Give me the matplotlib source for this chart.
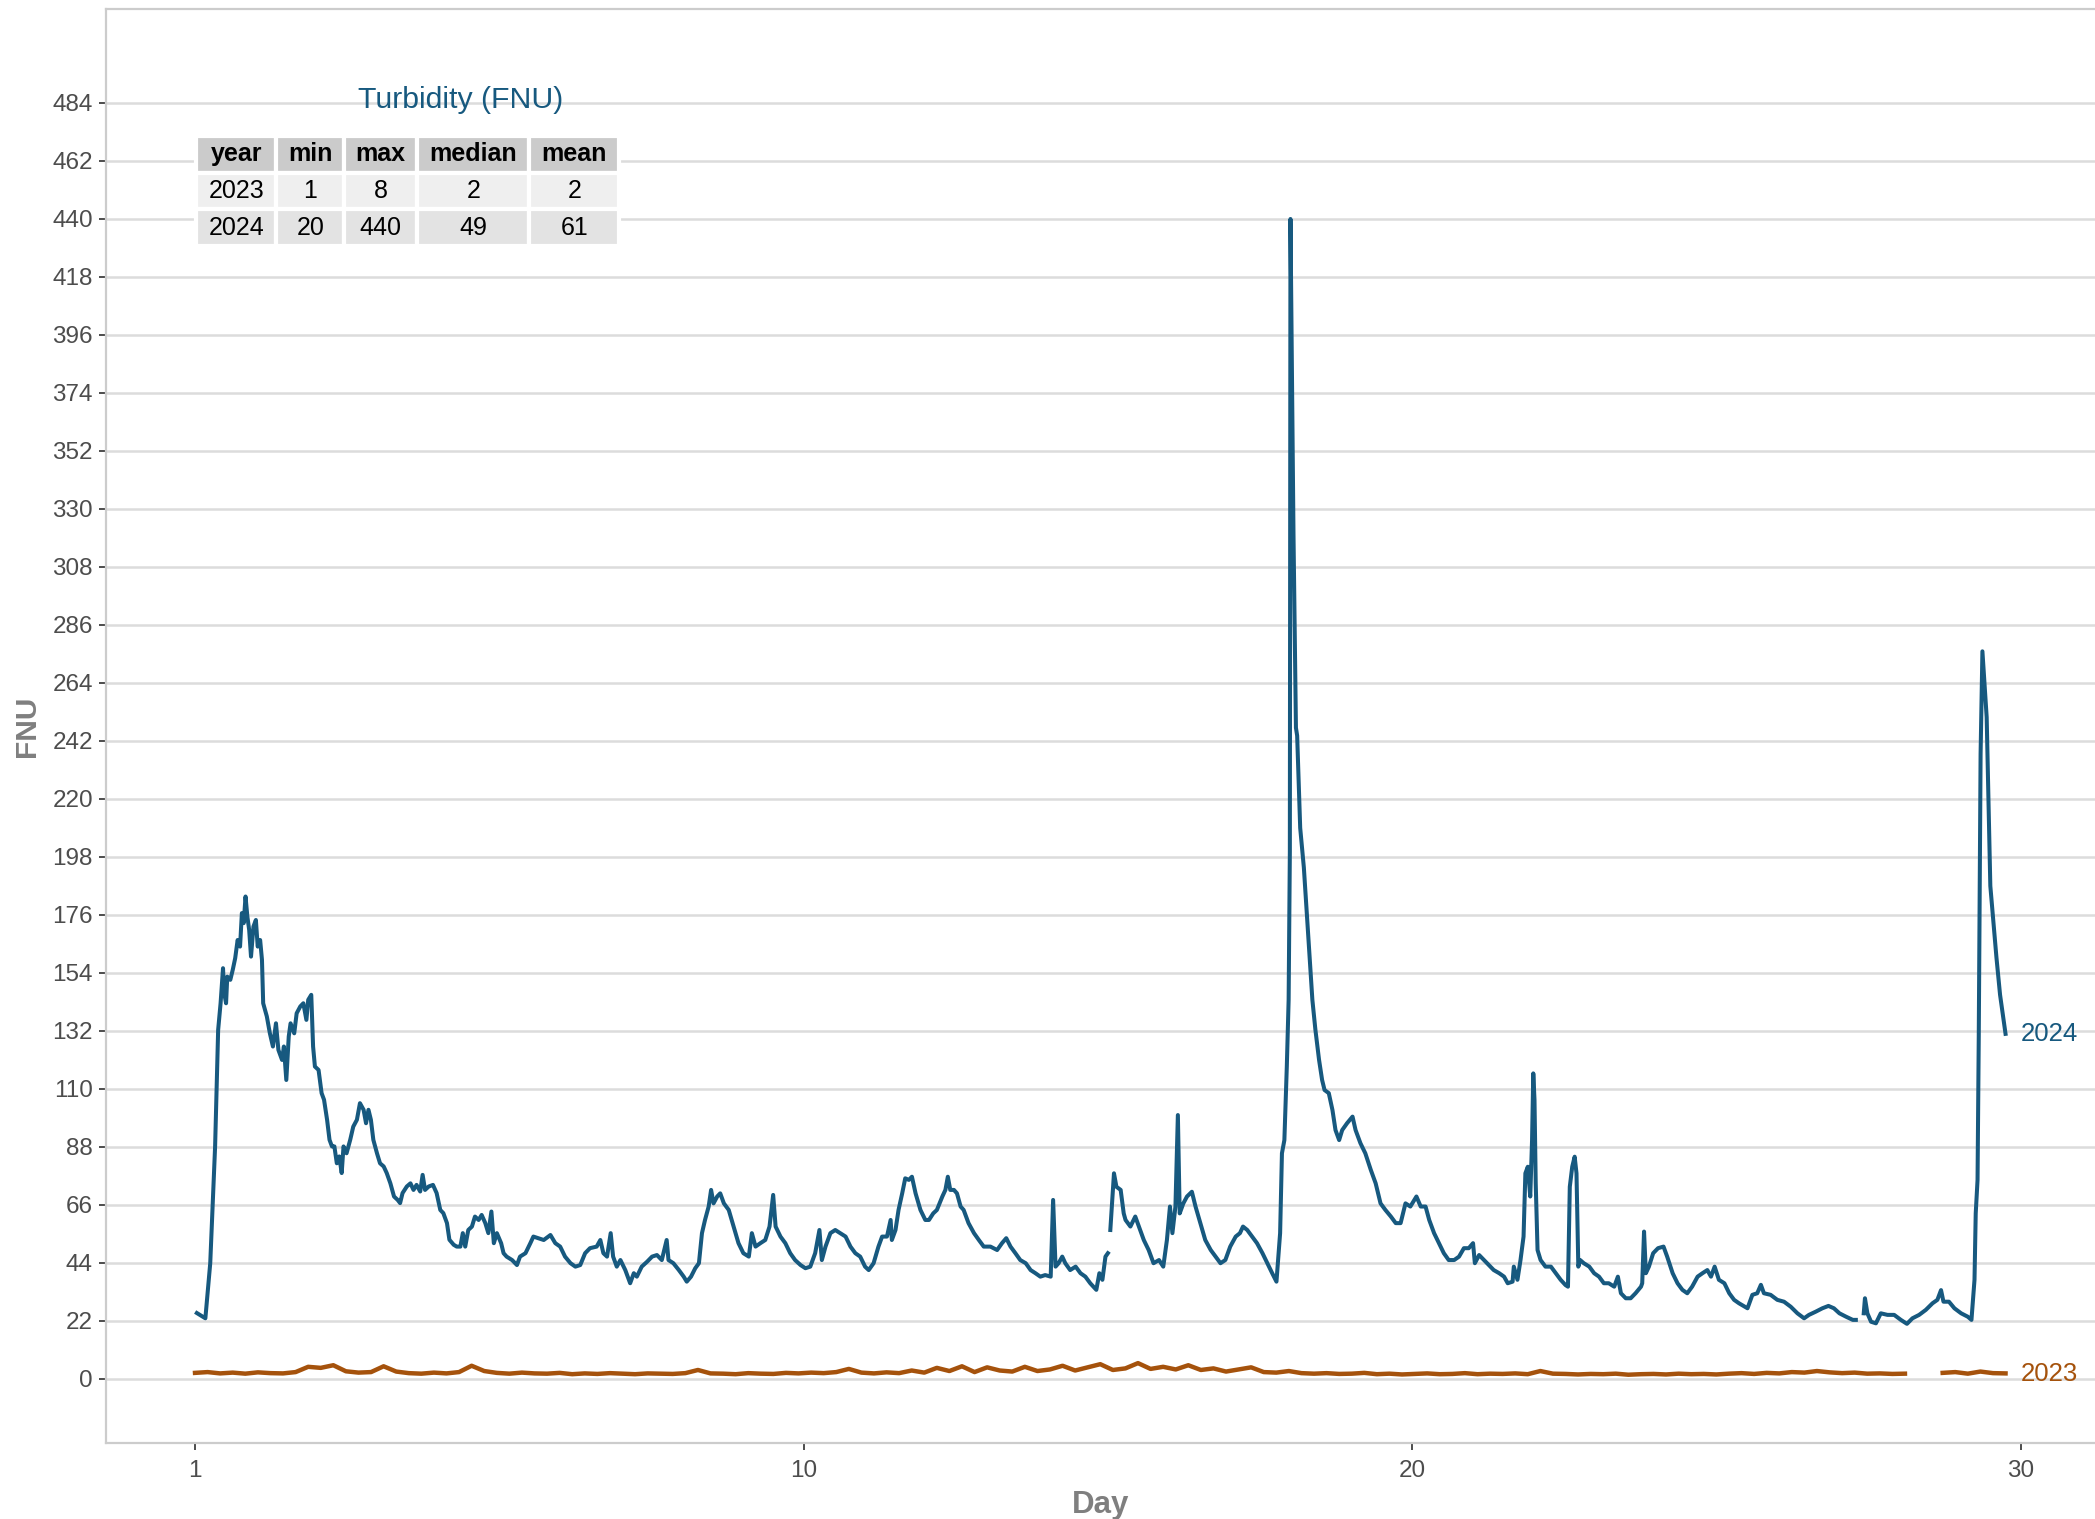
import numpy as np
import matplotlib.pyplot as plt

plt.rcParams['font.family'] = ['Liberation Sans', 'DejaVu Sans']

# 2024 turbidity trace: x = days from start of record, y = FNU
# (nan = break in the record)
day24 = [0.03, 0.17, 0.25, 0.33, 0.38, 0.42, 0.46, 0.48, 0.51, 0.53, 0.58, 0.62, 0.66, 0.70,
         0.74, 0.77, 0.80, 0.83, 0.86, 0.89, 0.92, 0.96, 1.00, 1.03, 1.07, 1.10, 1.12, 1.18,
         1.23, 1.28, 1.33, 1.37, 1.43, 1.46, 1.50, 1.54, 1.57, 1.63, 1.67, 1.73, 1.78, 1.83,
         1.86, 1.91, 1.94, 1.97, 2.03, 2.08, 2.12, 2.17, 2.21, 2.25, 2.29, 2.33, 2.37, 2.41,
         2.44, 2.49, 2.55, 2.60, 2.66, 2.71, 2.77, 2.81, 2.85, 2.89, 2.93, 2.99, 3.04, 3.10,
         3.15, 3.21, 3.27, 3.33, 3.37, 3.41, 3.48, 3.54, 3.59, 3.64, 3.70, 3.74, 3.78, 3.84,
         3.91, 3.97, 4.03, 4.08, 4.14, 4.18, 4.25, 4.30, 4.36, 4.40, 4.44, 4.49, 4.55, 4.60,
         4.66, 4.71, 4.77, 4.82, 4.87, 4.91, 4.96, 5.03,
         5.07, 5.12, 5.21, 5.29, 5.34, 5.43, 5.51, 5.56, 5.64, 5.73, 5.84, 5.92, 6.00, 6.08,
         6.17, 6.25, 6.33, 6.41, 6.49, 6.60, 6.66, 6.71, 6.77, 6.83, 6.87, 6.93, 6.99, 7.07,
         7.15, 7.21, 7.26, 7.34, 7.43, 7.51, 7.59, 7.67, 7.75, 7.78, 7.86, 7.95, 8.03, 8.08,
         8.15, 8.22, 8.28, 8.33, 8.38, 8.44, 8.48, 8.52, 8.58, 8.63, 8.69, 8.77, 8.85, 8.93,
         9.01, 9.10, 9.15, 9.21, 9.29, 9.37, 9.44, 9.50, 9.54, 9.62, 9.70, 9.78, 9.86, 9.95,
         10.03, 10.11, 10.19, 10.25,
         10.26, 10.30, 10.36, 10.44, 10.52, 10.60, 10.69, 10.77, 10.85, 10.93, 11.01, 11.07,
         11.15, 11.23, 11.29, 11.37, 11.43, 11.45, 11.51, 11.56, 11.62, 11.67, 11.73, 11.78,
         11.84, 11.92, 12.00, 12.06, 12.13, 12.19, 12.28, 12.33, 12.37, 12.41, 12.47, 12.52,
         12.58, 12.63, 12.71, 12.80, 12.88, 12.96, 13.07, 13.18, 13.26, 13.33, 13.40, 13.48,
         13.56, 13.65, 13.73, 13.81, 13.89, 13.97, 14.06, 14.10, 14.14, 14.19, 14.25, 14.30,
         14.38, 14.47, 14.55, 14.63, 14.71, 14.81, 14.86, 14.91, 14.96, 15.00, 15.02,
         15.04, 15.10, 15.14, 15.21, 15.26,
         15.29, 15.37, 15.45, 15.51, 15.59, 15.67, 15.75, 15.84, 15.91, 15.97, 16.02, 16.06,
         16.11, 16.15, 16.18, 16.24, 16.30, 16.38, 16.44, 16.52, 16.60, 16.69, 16.77, 16.85,
         16.93, 17.01, 17.10, 17.17, 17.22, 17.29, 17.37, 17.45, 17.54, 17.62, 17.70, 17.77,
         17.83, 17.86, 17.90, 17.94, 17.97, 17.99, 18.00, 18.05, 18.09, 18.11, 18.16, 18.22,
         18.30, 18.36, 18.41, 18.47, 18.52, 18.56, 18.63, 18.69, 18.74, 18.80, 18.85, 18.93,
         19.02, 19.07, 19.15, 19.23, 19.32, 19.40, 19.48, 19.56, 19.65, 19.73, 19.81, 19.89,
         19.97, 20.07, 20.14, 20.22, 20.28, 20.36, 20.44,
         20.52, 20.60, 20.69, 20.77, 20.85, 20.93, 21.00, 21.03, 21.10, 21.18, 21.26, 21.34,
         21.43, 21.51, 21.57, 21.65, 21.67, 21.73, 21.78, 21.83, 21.86, 21.90, 21.94, 21.97,
         21.99, 22.01, 22.03, 22.06, 22.11, 22.19, 22.28, 22.36, 22.44, 22.52, 22.56, 22.59,
         22.63, 22.67, 22.70, 22.73, 22.76, 22.82, 22.91, 22.99, 23.07, 23.15, 23.23, 23.32,
         23.38, 23.43, 23.51, 23.59, 23.67, 23.76, 23.78, 23.81, 23.84, 23.89, 23.96, 24.04,
         24.13, 24.19, 24.28, 24.36, 24.44, 24.52, 24.60, 24.69, 24.77, 24.85, 24.91, 24.97,
         25.04, 25.13, 25.21, 25.29, 25.37,
         25.51, 25.59, 25.67, 25.73, 25.78, 25.89, 26.00, 26.11, 26.22, 26.33, 26.44, 26.52,
         26.63, 26.74, 26.84, 26.93, 27.02, 27.13, 27.24, 27.29, 27.35,
         27.42, 27.44, 27.48, 27.54, 27.62, 27.70, 27.81, 27.92, 28.03, 28.13, 28.22, 28.33,
         28.44, 28.55, 28.63, 28.69, 28.73, 28.82, 28.91, 29.02, 29.13, 29.19, 29.24, 29.26,
         29.29, 29.31, 29.34, 29.37, 29.44, 29.50, 29.60, 29.66, 29.75]
fnu24 = [25.0, 23.0, 43.9, 88.2, 132.4, 142.5, 155.8, 146.3, 142.5, 152.6, 151.4, 155.2, 159.6, 166.5,
         164.0, 176.7, 172.9, 183.0, 175.4, 170.3, 160.2, 171.6, 174.1, 164.0, 166.5, 159.0, 142.5, 137.5,
         131.1, 126.1, 134.9, 124.8, 121.0, 126.1, 113.4, 129.9, 134.9, 131.1, 138.7, 141.3, 142.5, 136.2,
         143.8, 145.7, 126.1, 118.5, 117.2, 108.4, 105.9, 98.3, 90.7, 88.2, 88.2, 81.8, 84.4, 78.1,
         88.2, 85.6, 90.7, 95.7, 98.3, 104.6, 102.1, 97.0, 102.1, 98.3, 90.7, 85.6, 81.8, 80.6,
         78.1, 74.2, 69.2, 67.9, 66.7, 70.5, 73.0, 74.2, 71.7, 73.6, 71.1, 77.4, 71.7, 73.0,
         73.6, 70.5, 64.1, 62.9, 59.1, 52.8, 50.9, 50.2, 50.2, 55.3, 50.2, 56.5, 57.8, 61.6,
         60.3, 62.2, 59.1, 55.3, 63.5, 51.5, 55.3, 51.5,
         47.7, 46.4, 45.1, 43.2, 46.4, 47.7, 51.5, 54.0, 53.4, 52.7, 54.6, 51.5, 50.2, 46.4,
         43.9, 42.6, 43.2, 47.7, 49.6, 50.2, 52.7, 47.7, 46.4, 55.3, 46.4, 42.6, 45.1, 41.3,
         36.3, 40.1, 38.8, 42.6, 44.5, 46.4, 47.0, 45.1, 52.7, 45.1, 43.9, 41.3, 38.8, 36.9,
         38.8, 42.0, 43.9, 55.3, 60.3, 65.4, 71.7, 66.6, 69.2, 70.4, 66.6, 64.1, 57.8, 51.5,
         47.7, 46.4, 55.3, 50.2, 51.5, 52.7, 57.8, 69.8, 57.8, 54.0, 51.5, 47.7, 45.1, 43.2,
         42.0, 42.6, 47.7, 55.3,
         56.5, 45.1, 50.2, 55.3, 56.5, 55.3, 54.0, 50.2, 47.7, 46.4, 42.6, 41.3,
         43.9, 50.2, 54.0, 54.0, 60.3, 52.7, 56.5, 64.1, 70.4, 76.1, 75.5, 76.7,
         70.4, 64.1, 60.3, 60.3, 62.8, 64.1, 69.2, 71.7, 76.7, 71.7, 71.7, 70.4,
         65.4, 64.1, 59.1, 55.3, 52.7, 50.2, 50.2, 48.9, 51.5, 53.4, 50.2, 47.7,
         45.1, 43.9, 41.3, 40.1, 38.8, 39.4, 38.8, 67.9, 42.6, 43.9, 46.4, 43.9,
         41.3, 42.6, 40.1, 38.8, 36.3, 33.8, 40.1, 37.6, 46.4, 47.7, np.nan,
         56.5, 78.0, 72.9, 71.7, 62.8,
         60.3, 57.8, 61.6, 57.8, 52.7, 48.9, 43.9, 45.1, 42.6, 52.7, 65.4, 55.3,
         65.4, 100.1, 62.8, 66.6, 69.2, 71.0, 65.4, 59.1, 52.7, 48.9, 46.4, 43.9,
         45.1, 50.2, 54.0, 55.3, 57.8, 56.5, 54.0, 51.5, 47.7, 43.9, 40.1, 36.9,
         55.3, 85.6, 90.6, 118.5, 143.8, 200.0, 440.0, 320.0, 247.0, 244.0, 209.0, 194.0,
         165.0, 143.8, 132.4, 121.0, 113.4, 109.6, 108.4, 102.0, 94.4, 90.6, 94.4, 97.0,
         99.5, 94.4, 89.4, 85.6, 79.3, 74.2, 66.6, 64.1, 61.6, 59.1, 59.1, 66.6,
         65.4, 69.2, 65.4, 65.4, 60.3, 55.3, 51.5,
         47.7, 45.1, 45.1, 46.4, 49.6, 49.6, 51.5, 43.9, 47.0, 45.1, 43.2, 41.3,
         40.1, 38.8, 36.3, 36.9, 42.6, 37.6, 45.1, 54.0, 78.0, 80.5, 69.2, 90.6,
         115.9, 105.8, 74.2, 48.9, 45.1, 42.6, 42.6, 40.1, 37.6, 35.6, 35.0, 72.9,
         80.5, 84.3, 78.0, 42.6, 45.1, 43.9, 42.6, 40.1, 38.8, 36.3, 36.3, 35.0,
         38.8, 32.5, 30.6, 30.6, 32.5, 35.0, 36.3, 55.9, 40.1, 42.6, 47.7, 49.6,
         50.2, 46.4, 40.1, 36.3, 33.8, 32.5, 35.0, 38.8, 40.1, 41.3, 38.8, 42.6,
         37.6, 36.3, 32.5, 30.0, 28.7,
         26.8, 31.9, 32.5, 35.7, 32.5, 31.9, 30.0, 29.3, 27.4, 24.9, 23.0, 24.3,
         25.5, 26.8, 27.7, 26.8, 24.9, 23.6, 22.4, 22.4, np.nan,
         24.9, 30.6, 24.9, 21.7, 21.1, 24.9, 24.3, 24.3, 22.4, 20.9, 23.0, 24.3,
         26.2, 28.7, 30.0, 33.7, 29.3, 29.3, 26.8, 24.9, 23.6, 22.4, 37.6, 62.8,
         75.5, 130.0, 237.0, 276.0, 251.0, 187.0, 160.0, 145.7, 130.9]

# 2023 turbidity, 145 evenly spaced samples from day 0 to 29.75 (nan = missing data)
day23 = np.linspace(0, 29.75, 145)
fnu23 = [2.3, 2.6, 2.1, 2.4, 2.0, 2.5, 2.2, 2.1, 2.6, 4.6,
         4.2, 5.2, 2.9, 2.4, 2.6, 4.8, 2.8, 2.2, 2.0, 2.4,
         2.1, 2.6, 5.0, 3.0, 2.3, 2.0, 2.4, 2.1, 2.0, 2.3,
         1.8, 2.1, 1.9, 2.2, 2.0, 1.8, 2.1, 2.0, 1.9, 2.2,
         3.4, 2.1, 2.0, 1.8, 2.2, 2.0, 1.9, 2.3, 2.1, 2.4,
         2.2, 2.6, 3.8, 2.4, 2.1, 2.5, 2.2, 3.2, 2.4, 4.2,
         3.0, 4.8, 2.6, 4.4, 3.2, 2.8, 4.6, 3.0, 3.6, 5.0,
         3.2, 4.4, 5.6, 3.4, 4.0, 6.0, 3.8, 4.6, 3.6, 5.2,
         3.4, 4.0, 2.8, 3.6, 4.4, 2.6, 2.4, 3.0, 2.2, 2.0,
         2.2, 1.9, 2.0, 2.3, 1.8, 2.0, 1.7, 1.9, 2.1, 1.8,
         1.9, 2.2, 1.8, 2.0, 1.9, 2.1, 1.8, 3.0, 2.0, 1.9,
         1.7, 1.9, 1.8, 2.0, 1.6, 1.8, 1.9, 1.7, 2.0, 1.8,
         1.9, 1.7, 2.0, 2.2, 1.9, 2.3, 2.1, 2.6, 2.4, 3.0,
         2.5, 2.2, 2.4, 2.0, 2.1, 1.9, 2.0, np.nan, np.nan, 2.3,
         2.6, 2.0, 2.8, 2.2, 2.1]

# summary table
tbl_cols = ["year", "min", "max", "median", "mean"]
tbl_rows = [["2023", "1", "8", "2", "2"],
            ["2024", "20", "440", "49", "61"]]

yticks = list(range(0, 485, 22))
xticks = [0, 10, 20, 30]
xtick_labels = ["1", "10", "20", "30"]

c24 = '#17597f'
c23 = '#a5520c'

fig = plt.figure(figsize=(20.95, 15.19), dpi=100)
W, H = 2095, 1519
l, r, t, b = 105.5, 2095, 9.4, 1443
ax = fig.add_axes([l / W, 1 - b / H, (r - l) / W, (b - t) / H])

ax.plot(day23, fnu23, color=c23, lw=3.2, zorder=3)
ax.plot(day24, fnu24, color=c24, lw=2.9, zorder=3)

ax.text(30.0, 130.9, "2024", color=c24, fontsize=18.5, va='center', ha='left')
ax.text(30.0, 2.0, "2023", color=c23, fontsize=18.5, va='center', ha='left')

ax.set_xlim(-1.471, 31.22)
ax.set_ylim(-24.3, 519.5)
ax.set_yticks(yticks)
ax.set_xticks(xticks)
ax.set_xticklabels(xtick_labels)
ax.grid(axis='y', color='#dcdcdc', lw=1.8)
ax.grid(axis='x', visible=False)
ax.set_axisbelow(True)
ax.tick_params(axis='both', labelsize=17.5, labelcolor='#4d4d4d', color='#4d4d4d',
               length=5, width=1.4, pad=4)
ax.tick_params(axis='x', pad=7)
for side in ['left', 'top']:
    ax.spines[side].set_color('#cccccc')
    ax.spines[side].set_linewidth(1.6)
for side in ['right', 'bottom']:
    ax.spines[side].set_visible(False)
ax.plot([0, 1], [0, 0], transform=ax.transAxes, color='#cccccc', lw=1.6, clip_on=False)

ax.set_xlabel("Day", fontsize=22.5, fontweight='bold', color='#7f7f7f', labelpad=6)
ax.set_ylabel("FNU", fontsize=21.5, fontweight='bold', color='#7f7f7f', labelpad=8)

# summary table in the top-left corner
ax.text(0.1787, 0.9368, "Turbidity (FNU)", transform=ax.transAxes, color=c24,
        fontsize=21.8, ha='center', va='center')
tab = ax.table(cellText=tbl_rows, colLabels=tbl_cols, cellLoc='center',
               bbox=[0.0455, 0.835, 0.2126, 0.0767])
tab.set_zorder(6)
widths = [78, 66, 71, 109, 87]
fills = ['#cbcbcb', '#efefef', '#e3e3e3']
tab.auto_set_font_size(False)
for (row, col), cell in tab.get_celld().items():
    cell.set_width(widths[col])
    cell.set_edgecolor('white')
    cell.set_linewidth(3)
    cell.set_facecolor(fills[row])
    cell.get_text().set_fontsize(18)
    if row == 0:
        cell.get_text().set_fontweight('bold')

fig.savefig('out.png', dpi=100)
